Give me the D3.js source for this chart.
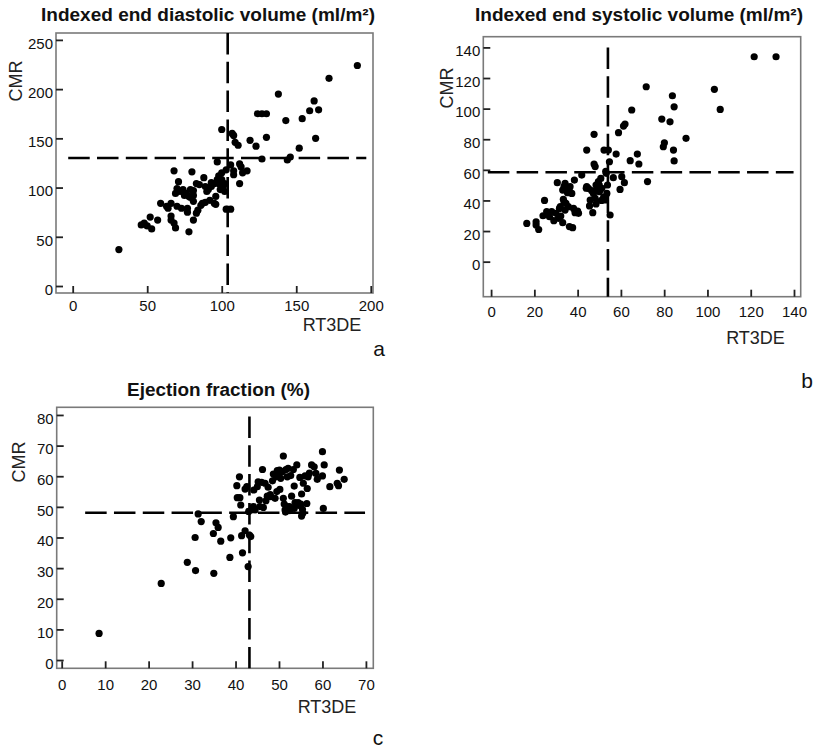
<!DOCTYPE html>
<html>
<head>
<meta charset="utf-8">
<script src="https://cdn.jsdelivr.net/npm/d3@7"></script>
<style>
  html, body { margin: 0; padding: 0; background: #fff; }
  svg { display: block; }
</style>
</head>
<body>
<svg id="chart" width="814" height="749"></svg>
<script>
// Indexed end diastolic volume: [RT3DE, CMR] per patient (ml/m²)
const edvPoints = [
  [31,37],[46,62],[48,64],[50,61],[52,70],[53,58],[57,67],[59,84],[63,81],[66,84],
  [66,71],[66,67],[68,64],[69,59],[68,117],[70,81],[69,94],[70,99],[71,106],[72,96],
  [73,79],[74,98],[76,94],[77,75],[77,79],[78,91],[78,55],[79,98],[80,116],[81,97],
  [81,92],[81,86],[81,67],[83,104],[83,74],[84,77],[85,103],[87,84],[88,110],[89,85],
  [89,101],[90,96],[91,98],[92,87],[93,101],[93,105],[95,104],[95,84],[96,91],[96,83],
  [97,126],[97,108],[98,104],[98,112],[99,103],[99,98],[100,108],[100,115],[100,159],[101,101],
  [102,96],[102,104],[103,118],[103,78],[106,123],[106,78],[107,155],[108,153],[108,117],[108,113],
  [109,146],[111,143],[112,104],[112,124],[113,121],[114,115],[117,117],[119,148],[123,142],[124,175],
  [127,175],[130,175],[130,151],[127,129],[138,195],[143,168],[144,128],[146,131],[152,140],[154,170],
  [159,178],[162,188],[163,150],[165,179],[172,211],[191,224],[64,79],[75,92],[79,90],[86,82]
];
const edvCutoff = { x: 104, y: 130 };
const edvXTicks = [0, 50, 100, 150, 200];
const edvYTicks = [0, 50, 100, 150, 200, 250];

// Indexed end systolic volume: [RT3DE, CMR] per patient (ml/m²)
const esvPoints = [
  [16.5,25],[20.8,26],[20.8,24],[22,21],[24.7,40],[24,30],[25.7,32.7],[27,29.4],[28,32.7],[29,26.8],
  [30,31.6],[30.6,51.6],[31.1,28.3],[31.6,34.8],[32.2,29.8],[33.1,25.5],[33.1,46.8],[33.4,40.7],[33.7,39.2],[33.7,49],
  [34.2,51.2],[34.2,33.7],[34.6,38.1],[35.3,45.1],[35.7,35.9],[36.2,22.9],[36.5,49],[37.3,44.6],[37.7,22.2],[38.1,34.8],
  [38.5,53.3],[38.8,32],[40.4,31.6],[41.9,56.6],[44.2,72.9],[44.2,49],[45,47.9],[45.5,36.4],[45.8,40.3],[46.5,46.4],
  [47,32],[47.3,44.6],[47.6,83.2],[47.6,63.8],[48.1,62.1],[48.1,41.4],[48.5,50.1],[48.5,37.7],[48.8,46.4],[49.6,52.3],
  [50.1,45.7],[50.7,54.4],[51.2,47.9],[52.2,72.9],[52.7,40.3],[53.2,57.7],[53.5,44.6],[53.8,50.1],[54.2,72.9],[54.7,65.3],
  [55,30.5],[56.5,54.9],[57.8,70.3],[58.9,84.3],[59.6,47.2],[60.4,55.5],[61.2,88.6],[61.9,89.9],[61.6,51.6],[65,99.1],
  [64.3,66],[67.6,70.3],[68.3,63.8],[71.7,114.3],[72.3,52.3],[78.9,93.2],[79.6,75.1],[80.1,77.7],[82.7,91.4],[83.8,108.4],
  [84.3,72.9],[84.6,65.8],[84.6,101.2],[90.1,80.6],[103.2,112.6],[105.9,99.5],[121.6,133.9],[131.7,133.9],
  [50,50],[52,42],[44,48],[36,47],[32,36],[26,31],[40,33],[51,40],[53,59]
];
const esvCutoff = { x: 54, y: 58.4 };
const esvXTicks = [0, 20, 40, 60, 80, 100, 120, 140];
const esvYTicks = [0, 20, 40, 60, 80, 100, 120, 140];

// Ejection fraction: [RT3DE, CMR] per patient (%)
const efPoints = [
  [8.6,8.7],[22.9,25],[28.9,31.9],[30.7,40],[30.8,29.2],[31.4,47.7],[32.1,45.2],[34.9,41.3],[35,28.3],[35.5,44.8],
  [36,43.3],[36.6,38.8],[38.7,33.5],[38.9,39.9],[39.5,46.8],[40.3,56.9],[40.4,53],[40.9,59.8],[41,53],[41.2,50.6],
  [41.4,40.6],[41.6,35],[42.2,42.2],[42.2,55.8],[42.6,56.6],[42.9,30.5],[43.2,40.8],[43.5,40.3],[43.7,49],[44.1,50.1],
  [44.2,55.5],[44.5,49],[45,56.6],[45.2,58.2],[45.5,52.2],[45.6,50.1],[46,58],[46.2,62.2],[46.4,49.8],[46.8,57.7],
  [47.5,56.4],[47.3,53.5],[48.1,53.3],[48.7,60.7],[49.1,52.8],[49.3,59.8],[49.6,61.8],[50.1,62],[50.2,55.7],[50.4,59.3],
  [50.8,61.5],[51,66.6],[51,52.8],[51.2,50.9],[51.4,49],[51.6,62.2],[51.8,50.1],[51.9,59.8],[52.1,62.6],[52.4,50.1],
  [52.9,53.5],[53.3,62.2],[53.5,56.8],[53.7,51.4],[54.1,63.7],[54.4,51.4],[54.8,59.6],[55,50.9],[55.2,54.2],[55.2,47],
  [55.4,49.2],[55.6,57.7],[56,60.1],[56.4,51.1],[56.5,56],[56.7,59.8],[57.5,63.7],[58.1,63.1],[58.5,60.9],[58.8,59],
  [60,68],[60,60.1],[60.2,49.5],[60.4,63.7],[61.7,56.6],[63.4,57.7],[63.7,56.9],[63.9,62],[65,59],
  [51.5,48.3],[52.5,48.8],[53.5,49.5],[54.5,50.5],[55.5,48],[43,48.5],[44,49.5],[47,52],[48,54],[49.5,55],
  [50,61],[52.7,60.2],[57,61],[48.5,58.5]
];
const efCutoff = { x: 43.2, y: 48.1 };
const efXTicks = [0, 10, 20, 30, 40, 50, 60, 70];
const efYTicks = [0, 10, 20, 30, 40, 50, 60, 70, 80];

const FONT = "'Liberation Sans', Arial, Helvetica, sans-serif";

// Layout of each scatter panel
const panels = [
  {
    letter: "a", title: "Indexed end diastolic volume (ml/m²)",
    points: edvPoints, cutoff: edvCutoff, xTicks: edvXTicks, yTicks: edvYTicks,
    box: { left: 56, right: 373, top: 33, bottom: 293 },
    xDomain: [-11.2, 201.5], yDomain: [-7.1, 257],
    hLine: [-3, 197], vLine: null, xLabelGap: 7,
    titlePos: [208, 15], titleWidth: 334,
    yLabelPos: [16, 81], xLabelPos: [332, 325], letterPos: [379, 348]
  },
  {
    letter: "b", title: "Indexed end systolic volume (ml/m²)",
    points: esvPoints, cutoff: esvCutoff, xTicks: esvXTicks, yTicks: esvYTicks,
    box: { left: 483.3, right: 800.7, top: 36.7, bottom: 296.7 },
    xDomain: [-3.6, 143.1], yDomain: [-22.9, 147],
    hLine: [-1.5, 139.8], vLine: [null, 140], xLabelGap: 10,
    titlePos: [639, 15], titleWidth: 328,
    yLabelPos: [447, 88], xLabelPos: [755.5, 338], letterPos: [807, 380]
  },
  {
    letter: "c", title: "Ejection fraction (%)",
    points: efPoints, cutoff: efCutoff, xTicks: efXTicks, yTicks: efYTicks,
    box: { left: 56.7, right: 373.3, top: 407.3, bottom: 668.3 },
    xDomain: [-1.15, 71.7], yDomain: [-2.7, 82.5],
    hLine: [5.4, 69.8], vLine: [null, 79.5], xLabelGap: 11,
    titlePos: [218.5, 390], titleWidth: 183,
    yLabelPos: [19, 462], xLabelPos: [327, 707], letterPos: [378, 737]
  }
];

const svg = d3.select("#chart");

panels.forEach(p => {
  const b = p.box;
  const x = d3.scaleLinear().domain(p.xDomain).range([b.left, b.right]);
  const y = d3.scaleLinear().domain(p.yDomain).range([b.bottom, b.top]);
  const g = svg.append("g").attr("class", "panel-" + p.letter);

  // frame
  g.append("rect")
    .attr("x", b.left).attr("y", b.top)
    .attr("width", b.right - b.left).attr("height", b.bottom - b.top)
    .attr("fill", "none").attr("stroke", "#7a7a7a").attr("stroke-width", 1.6);

  // x axis with inward ticks
  const xAxis = g.append("g")
    .attr("transform", `translate(0,${b.bottom})`)
    .call(d3.axisBottom(x).tickValues(p.xTicks).tickSize(-7).tickPadding(p.xLabelGap));
  // y axis with inward ticks
  const yAxis = g.append("g")
    .attr("transform", `translate(${b.left},0)`)
    .call(d3.axisLeft(y).tickValues(p.yTicks).tickSize(-7).tickPadding(3));

  [xAxis, yAxis].forEach(ax => {
    ax.select(".domain").remove();
    ax.selectAll(".tick line").attr("stroke", "#222").attr("stroke-width", 1.8);
    ax.selectAll(".tick text")
      .attr("fill", "#111")
      .style("font-family", FONT)
      .style("font-size", "15px");
  });
  yAxis.selectAll(".tick text").attr("dy", "0.55em");

  // cut-off reference lines
  const dash = "21.5,7.3";
  const vy = p.vLine || [null, null];
  g.append("line")
    .attr("x1", x(p.cutoff.x)).attr("x2", x(p.cutoff.x))
    .attr("y1", vy[1] == null ? b.top : y(vy[1]))
    .attr("y2", b.bottom)
    .attr("stroke", "#000").attr("stroke-width", 2.6)
    .attr("stroke-dasharray", dash);
  g.append("line")
    .attr("x1", x(p.hLine[0])).attr("x2", x(p.hLine[1]))
    .attr("y1", y(p.cutoff.y)).attr("y2", y(p.cutoff.y))
    .attr("stroke", "#000").attr("stroke-width", 2.6)
    .attr("stroke-dasharray", dash);

  // patients
  g.append("g").selectAll("circle")
    .data(p.points)
    .join("circle")
    .attr("cx", d => x(d[0]))
    .attr("cy", d => y(d[1]))
    .attr("r", 3.6)
    .attr("fill", "#000");

  // title
  g.append("text")
    .attr("x", p.titlePos[0]).attr("y", p.titlePos[1])
    .attr("text-anchor", "middle").attr("dominant-baseline", "central")
    .attr("textLength", p.titleWidth).attr("lengthAdjust", "spacingAndGlyphs")
    .style("font-family", FONT).style("font-weight", "bold").style("font-size", "18px")
    .attr("fill", "#111")
    .text(p.title);

  // axis titles
  g.append("text")
    .attr("transform", `translate(${p.yLabelPos[0]},${p.yLabelPos[1]}) rotate(-90)`)
    .attr("text-anchor", "middle").attr("dominant-baseline", "central")
    .style("font-family", FONT).style("font-size", "18px")
    .attr("fill", "#222")
    .text("CMR");
  g.append("text")
    .attr("x", p.xLabelPos[0]).attr("y", p.xLabelPos[1])
    .attr("text-anchor", "middle").attr("dominant-baseline", "central")
    .style("font-family", FONT).style("font-size", "18px")
    .attr("fill", "#222")
    .text("RT3DE");

  // panel letter
  g.append("text")
    .attr("x", p.letterPos[0]).attr("y", p.letterPos[1])
    .attr("text-anchor", "middle").attr("dominant-baseline", "central")
    .style("font-family", FONT).style("font-size", "21px")
    .attr("fill", "#111")
    .text(p.letter);
});
</script>
</body>
</html>
